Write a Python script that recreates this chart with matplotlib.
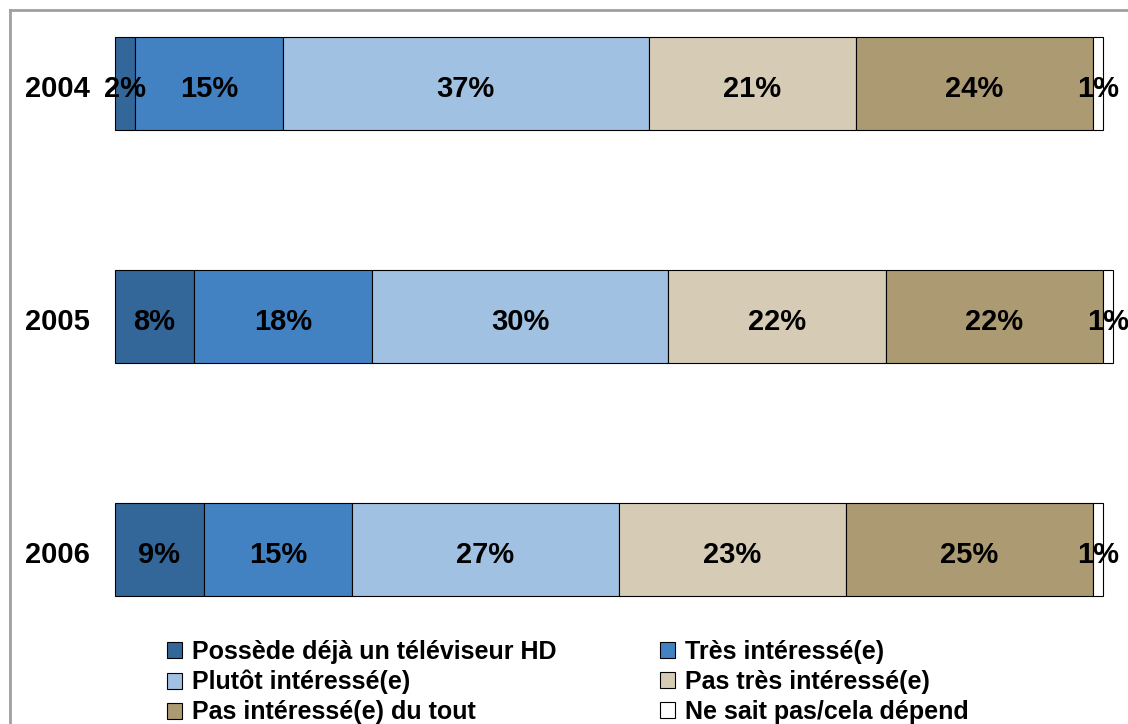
import matplotlib
matplotlib.use('Agg')
import matplotlib.pyplot as plt
from matplotlib.lines import Line2D
from matplotlib.patches import Patch
import numpy as np

plt.rcParams['font.family'] = ['Liberation Sans', 'DejaVu Sans']

# ── data ────────────────────────────────────────────────────────────
years = ['2004', '2005', '2006']
categories = [
    'Possède déjà un téléviseur HD',
    'Très intéressé(e)',
    'Plutôt intéressé(e)',
    'Pas très intéressé(e)',
    'Pas intéressé(e) du tout',
    'Ne sait pas/cela dépend',
]
possede = [2, 8, 9]
tres = [15, 18, 15]
plutot = [37, 30, 27]
pas_tres = [21, 22, 23]
pas_du_tout = [24, 22, 25]
ne_sait_pas = [1, 1, 1]

series = [possede, tres, plutot, pas_tres, pas_du_tout, ne_sait_pas]
colors = ['#336699', '#4282C2', '#A0C1E2', '#D6CCB6', '#AB9A72', '#FFFFFF']

W, H = 1128, 724
fig = plt.figure(figsize=(W / 100, H / 100), dpi=100)
fig.patch.set_facecolor('white')

# axes placed in pixel terms: x 115..1103 = 0..100 %, y 30..610
ax = fig.add_axes([115 / W, 1 - 610 / H, 988 / W, 580 / H])
ax.set_xlim(0, 100)
ax.set_ylim(2.2597, -0.2296)
ax.axis('off')

ypos = np.arange(len(years))
left = np.zeros(len(years))
bar_h = 93 / 233
dy = 0.024   # labels sit slightly below the bar centre
for vals, col, name in zip(series, colors, categories):
    vals = np.array(vals, dtype=float)
    ax.barh(ypos, vals, left=left, height=bar_h, color=col,
            edgecolor='black', linewidth=0.8, label=name, clip_on=False,
            zorder=2)
    for y, l, v in zip(ypos, left, vals):
        ax.text(l + v / 2, y + dy, f'{int(v)}%', ha='center', va='center',
                fontsize=21, fontweight='bold', color='black', zorder=4,
                clip_on=False)
    left += vals

for y, yr in zip(ypos, years):
    ax.text(-2.5, y + dy, yr, ha='right', va='center', fontsize=21,
            fontweight='bold', color='black', clip_on=False)

# legend, row-major order across two columns
handles = [Patch(facecolor=c, edgecolor='black', linewidth=0.8)
           for c in colors]
order = [0, 2, 4, 1, 3, 5]
fig.legend([handles[i] for i in order], [categories[i] for i in order],
           ncol=2, loc='upper left', bbox_to_anchor=(167 / W, 1 - 640 / H),
           frameon=False, prop={'weight': 'bold', 'size': 18},
           handlelength=0.6, handleheight=0.6, handletextpad=0.4,
           columnspacing=4.15, labelspacing=0.24, borderpad=0, borderaxespad=0)

# grey outer frame (top and left edges visible)
fig.add_artist(Line2D([10 / W, 1.0], [1 - 10 / H, 1 - 10 / H],
                      transform=fig.transFigure, color='#A0A0A0', lw=2))
fig.add_artist(Line2D([10 / W, 10 / W], [1 - 10 / H, 0],
                      transform=fig.transFigure, color='#A0A0A0', lw=2))

fig.savefig('out.png', dpi=100, facecolor='white')
